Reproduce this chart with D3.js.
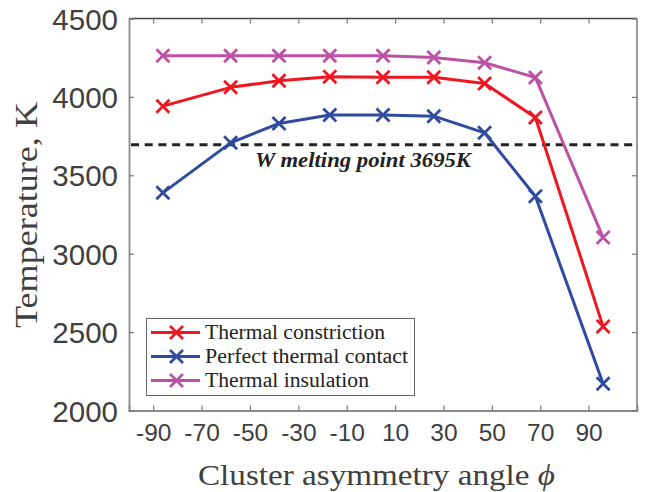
<!DOCTYPE html>
<html>
<head>
<meta charset="utf-8">
<script src="https://cdn.jsdelivr.net/npm/d3@7"></script>
<style>
  body { margin: 0; background: #fff; }
  svg text { fill: #404040; }
</style>
</head>
<body>
<svg id="chart" width="649" height="492"></svg>
<script>
// values (x in displayed axis units)
var angles = [-86, -58, -38, -17, 5, 26, 47, 68, 96];
var constriction = [3941, 4061, 4103, 4128, 4126, 4126, 4086, 3869, 2535];
var perfect = [3388, 3707, 3831, 3884, 3884, 3877, 3771, 3366, 2170];
var insulation = [4262, 4262, 4262, 4262, 4262, 4252, 4218, 4124, 3103];
var seriesNames = ["Thermal constriction", "Perfect thermal contact", "Thermal insulation"];
var legendWidths = [180, 203, 164];
var xTicks = [-90, -70, -50, -30, -10, 10, 30, 50, 70, 90];
var yTicks = [2000, 2500, 3000, 3500, 4000, 4500];
var meltingPoint = 3695;

var colors = ["#f0161f", "#2f4b9f", "#bb52a6"];
var series = [constriction, perfect, insulation];

var svg = d3.select("#chart");

var x = d3.scaleLinear().domain([-100, 110]).range([129, 637]);
var y = d3.scaleLinear().domain([2000, 4500]).range([410.5, 18.5]);

// axes box
var g = svg.append("g");
g.append("line").attr("x1", x(-100)).attr("x2", x(110)).attr("y1", y(4500)).attr("y2", y(4500))
    .attr("stroke", "#444").attr("stroke-width", 1.3);
g.append("line").attr("x1", x(110)).attr("x2", x(110)).attr("y1", y(4500)).attr("y2", y(2000))
    .attr("stroke", "#666").attr("stroke-width", 1.3);

var xAxis = g.append("g").attr("transform", "translate(0," + y(2000) + ")")
    .call(d3.axisBottom(x).tickValues(xTicks).tickSize(-5).tickPadding(13).tickFormat(d => String(d)));
var yAxis = g.append("g").attr("transform", "translate(" + x(-100) + ",0)")
    .call(d3.axisLeft(y).tickValues(yTicks).tickSize(-5).tickPadding(11).tickFormat(d => String(d)));
// top & right ticks
g.append("g").attr("transform", "translate(0," + y(4500) + ")")
    .call(d3.axisTop(x).tickValues(xTicks).tickSize(-5).tickFormat(""))
    .call(a => a.select(".domain").remove());
g.append("g").attr("transform", "translate(" + x(110) + ",0)")
    .call(d3.axisRight(y).tickValues(yTicks).tickSize(-5).tickFormat(""))
    .call(a => a.select(".domain").remove());

svg.selectAll(".domain").attr("stroke", "#8a8a8a").attr("stroke-width", 1.8);
svg.selectAll(".tick line").attr("stroke", "#777").attr("stroke-width", 1.2);
xAxis.selectAll("text").style("font-family", "Liberation Sans, Arial, sans-serif")
    .style("font-size", "24.5px").style("fill", "#404040");
yAxis.selectAll("text").style("font-family", "Liberation Sans, Arial, sans-serif")
    .style("font-size", "29.5px").style("fill", "#404040").attr("dy", "0.36em");

// melting point line
svg.append("line")
    .attr("x1", x(-100) + 2).attr("x2", x(110))
    .attr("y1", y(meltingPoint)).attr("y2", y(meltingPoint))
    .attr("stroke", "#222").attr("stroke-width", 3)
    .attr("stroke-dasharray", "8,5.7");
svg.append("text")
    .attr("x", 255).attr("y", 167)
    .attr("textLength", 216).attr("lengthAdjust", "spacingAndGlyphs")
    .style("font-family", "Liberation Serif, Times New Roman, serif")
    .style("font-style", "italic").style("font-weight", "bold")
    .style("font-size", "20px").style("fill", "#222")
    .text("W melting point 3695K");

// lines and markers
var line = d3.line().x((d, i) => x(angles[i])).y(d => y(d));
var cross = 6.5;
series.forEach(function (vals, k) {
    svg.append("path").datum(vals)
        .attr("d", line)
        .attr("fill", "none")
        .attr("stroke", colors[k])
        .attr("stroke-width", 3)
        .attr("stroke-linejoin", "round");
    svg.append("g").selectAll("path")
        .data(vals)
        .join("path")
        .attr("d", (d, i) => {
            var cx = x(angles[i]), cy = y(d);
            return "M" + (cx - cross) + "," + (cy - cross) + "L" + (cx + cross) + "," + (cy + cross) +
                "M" + (cx - cross) + "," + (cy + cross) + "L" + (cx + cross) + "," + (cy - cross);
        })
        .attr("stroke", colors[k])
        .attr("stroke-width", 2.8);
});

// legend
var leg = svg.append("g");
leg.append("rect").attr("x", 146.5).attr("y", 318.5).attr("width", 268).attr("height", 77)
    .attr("fill", "#fff").attr("stroke", "#666").attr("stroke-width", 1);
seriesNames.forEach(function (name, k) {
    var ly = 332.5 + k * 24;
    leg.append("line").attr("x1", 151).attr("x2", 200).attr("y1", ly).attr("y2", ly)
        .attr("stroke", colors[k]).attr("stroke-width", 3);
    var cx = 176.5;
    leg.append("path")
        .attr("d", "M" + (cx - cross) + "," + (ly - cross) + "L" + (cx + cross) + "," + (ly + cross) +
            "M" + (cx - cross) + "," + (ly + cross) + "L" + (cx + cross) + "," + (ly - cross))
        .attr("stroke", colors[k]).attr("stroke-width", 2.8);
    leg.append("text").attr("x", 205).attr("y", ly + 6)
        .attr("textLength", legendWidths[k]).attr("lengthAdjust", "spacingAndGlyphs")
        .style("font-family", "Liberation Serif, Times New Roman, serif")
        .style("font-size", "20px").style("fill", "#222")
        .text(name);
});

// axis titles
svg.append("text")
    .attr("x", 198).attr("y", 485)
    .attr("textLength", 357).attr("lengthAdjust", "spacingAndGlyphs")
    .style("font-family", "Liberation Serif, Times New Roman, serif")
    .style("font-size", "29px").style("fill", "#404040")
    .html('Cluster asymmetry angle <tspan font-style="italic">ϕ</tspan>');
svg.append("text")
    .attr("transform", "translate(37,328) rotate(-90)")
    .attr("textLength", 226).attr("lengthAdjust", "spacingAndGlyphs")
    .style("font-family", "Liberation Serif, Times New Roman, serif")
    .style("font-size", "31px").style("fill", "#404040")
    .text("Temperature, K");
</script>
</body>
</html>
